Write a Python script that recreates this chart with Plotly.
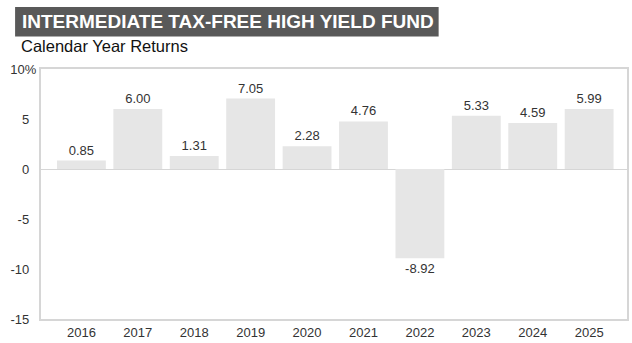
import plotly.graph_objects as go

# Calendar year returns (%)
years = ["2016", "2017", "2018", "2019", "2020", "2021", "2022", "2023", "2024", "2025"]
returns = [0.85, 6.00, 1.31, 7.05, 2.28, 4.76, -8.92, 5.33, 4.59, 5.99]

y_tick_vals = [10, 5, 0, -5, -10, -15]
# non-breaking spaces keep the plain numbers aligned with the "10" of "10%"
NB = "\u00a0"
y_tick_text = ["10%", "5" + NB * 2, "0" + NB * 2, "-5" + NB * 2, "-10" + NB * 2, "-15" + NB * 2]

title_text = "INTERMEDIATE TAX-FREE HIGH YIELD FUND"
subtitle_text = "Calendar Year Returns"

FONT = "Liberation Sans, Arial, sans-serif"
W, H = 632, 343
ML, MR, MT, MB = 41, 3, 69, 20
PW, PH = W - ML - MR, H - MT - MB


def px_x(x):
    return (x - ML) / PW


def px_y(y):
    return (H - MB - y) / PH


fig = go.Figure(
    go.Bar(
        x=list(range(len(years))),
        y=returns,
        marker=dict(color="#e6e6e6", line=dict(width=0)),
        width=0.866,
        text=[f"{v:.2f}" for v in returns],
        textposition="outside",
        textfont=dict(family=FONT, size=13, color="#333333"),
        cliponaxis=False,
        hoverinfo="skip",
    )
)

fig.update_layout(
    width=W,
    height=H,
    margin=dict(l=ML, r=MR, t=MT, b=MB, pad=0),
    paper_bgcolor="white",
    plot_bgcolor="white",
    showlegend=False,
    font=dict(family=FONT, size=12, color="#333333"),
    xaxis=dict(
        range=[-0.716, 9.671],
        tickvals=list(range(len(years))),
        ticktext=years,
        showgrid=False,
        zeroline=False,
        showline=True,
        mirror=True,
        linecolor="#d6d6d6",
        linewidth=2,
        ticks="",
        tickfont=dict(size=13, color="#333333"),
        fixedrange=True,
    ),
    yaxis=dict(
        range=[-15, 10],
        tickvals=y_tick_vals,
        ticktext=y_tick_text,
        showgrid=False,
        zeroline=True,
        zerolinecolor="#d6d6d6",
        zerolinewidth=1,
        showline=True,
        mirror=True,
        linecolor="#d6d6d6",
        linewidth=2,
        ticks="",
        ticklabelstandoff=0,
        tickfont=dict(size=13, color="#333333"),
        fixedrange=True,
    ),
    shapes=[
        dict(
            type="rect",
            xref="paper",
            yref="paper",
            x0=px_x(15),
            x1=px_x(440),
            y0=px_y(36),
            y1=px_y(6),
            fillcolor="#595959",
            line=dict(width=0),
            layer="above",
        )
    ],
    annotations=[
        dict(
            text=f"<b>{title_text}</b>",
            xref="paper",
            yref="paper",
            x=px_x(20),
            y=px_y(21),
            xanchor="left",
            yanchor="middle",
            showarrow=False,
            font=dict(family=FONT, size=19, color="white"),
        ),
        dict(
            text=subtitle_text,
            xref="paper",
            yref="paper",
            x=px_x(19),
            y=px_y(46),
            xanchor="left",
            yanchor="middle",
            showarrow=False,
            font=dict(family=FONT, size=16.5, color="#111111"),
        ),
    ],
)

fig.write_html("out.html", config={"displayModeBar": False})
